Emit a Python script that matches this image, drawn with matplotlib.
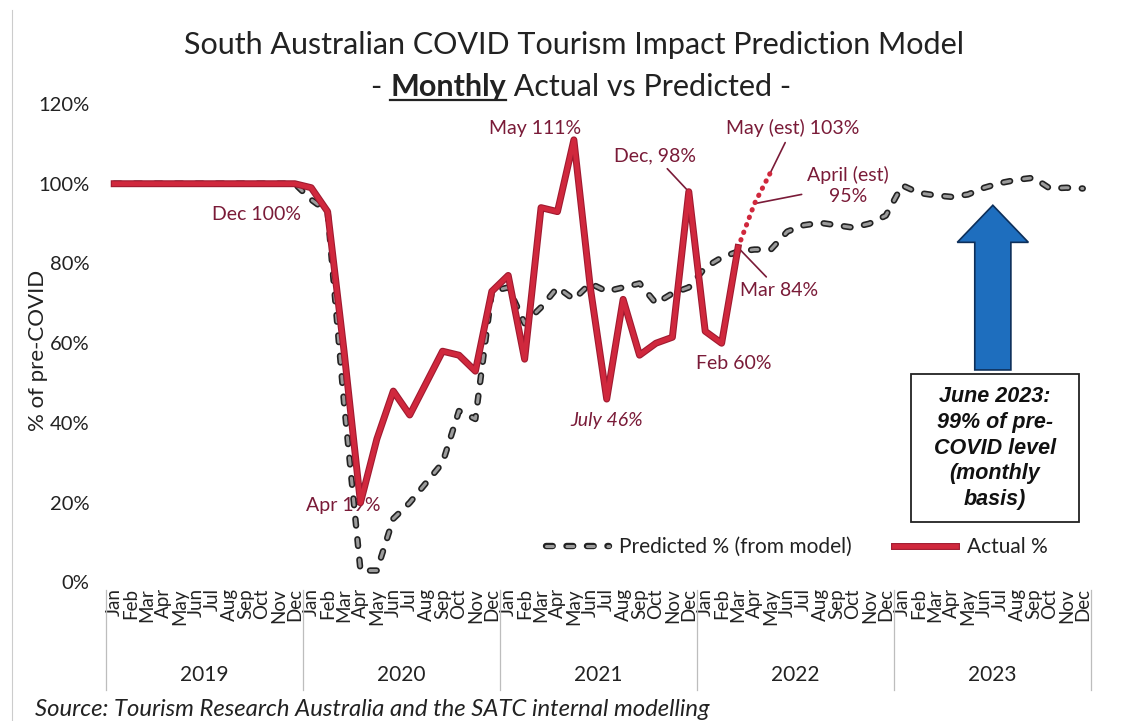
import numpy as np
import matplotlib
matplotlib.use("Agg")
import matplotlib.pyplot as plt
import matplotlib.patheffects as pe
from matplotlib.patches import FancyArrow, Rectangle
from matplotlib.lines import Line2D

plt.rcParams['font.family'] = ['Lato', 'DejaVu Sans']

months = ["Jan", "Feb", "Mar", "Apr", "May", "Jun",
          "Jul", "Aug", "Sep", "Oct", "Nov", "Dec"]
years = ["2019", "2020", "2021", "2022", "2023"]

# % of pre-COVID, Jan 2019 .. Dec 2023
predicted = [100, 100, 100, 100, 100, 100, 100, 100, 100, 100, 100, 100,
             96, 93, 45, 3, 3, 16, 20, 25, 30, 43, 41, 73,
             74, 65, 69, 74, 71, 75, 73, 74, 75, 70, 72.5, 74,
             79, 81.5, 83, 83.5, 83.5, 88, 89.6, 90.2, 89.6, 89, 90, 92,
             99.6, 97.7, 97.1, 96.7, 97.3, 99, 100.2, 101, 101.5, 98.8, 99, 98.8]
actual = [100, 100, 100, 100, 100, 100, 100, 100, 100, 100, 100, 100,
          99, 93, 58, 20, 36, 48, 42, 50, 58, 57, 53, 73,
          77, 56, 94, 93, 111, 74, 46, 71, 57, 60, 61.5, 98,
          63, 60, 84]
est_months = [38, 39, 40]
est_values = [84, 95, 103]

n = len(months) * len(years)
x = np.arange(n)
act = np.full(n, np.nan)
act[:len(actual)] = actual

maroon = '#7a1b38'
red = '#d0283d'

fig = plt.figure(figsize=(11.23, 7.21), dpi=100)
ax = fig.add_axes([0.0944, 0.1921, 0.8771, 0.6637])
ax.set_xlim(-0.5, n - 0.5)
ax.set_ylim(0, 120)

ax.plot(x, predicted, color='#9c9c9c', lw=2.2, linestyle=(0, (2.2, 4.5)),
        dash_capstyle='round', clip_on=False, zorder=3,
        path_effects=[pe.Stroke(linewidth=4.6, foreground='#222222'), pe.Normal()],
        label='Predicted % (from model)')
ax.plot(est_months, est_values, color=red, lw=3.6, linestyle=(0, (0.1, 1.5)),
        dash_capstyle='round', zorder=4)
ax.plot(x, act, color=red, lw=3.4, solid_joinstyle='round', zorder=5,
        path_effects=[pe.Stroke(linewidth=5, foreground='#a01a30'), pe.Normal()],
        label='Actual %')

for s in ax.spines.values():
    s.set_visible(False)
ax.set_yticks(range(0, 121, 20))
ax.set_yticklabels([f"{v}%" for v in range(0, 121, 20)], fontsize=14.5, color='#222222')
ax.tick_params(axis='y', length=0, pad=12)
ax.set_xticks(x)
ax.set_xticklabels(months * len(years), rotation=90, fontsize=13.5, color='#222222')
ax.tick_params(axis='x', length=0, pad=4)
ax.set_ylabel("% of pre-COVID", fontsize=16, color='#222222')
ax.yaxis.set_label_coords(-0.059, 0.486)

tr = ax.get_xaxis_transform()
for k in range(len(years) + 1):
    ax.add_line(Line2D([12 * k - 0.5] * 2, [-0.015, -0.225], transform=tr,
                       color='#bdbdbd', lw=0.9, clip_on=False))
for k, yr in enumerate(years):
    ax.text(12 * k + 5.5, -0.193, yr, transform=tr, ha='center', va='center',
            fontsize=15, color='#222222')

# labels
lab = dict(color=maroon, fontsize=14, ha='center', va='center')
ax.text(8.64, 92.4, "Dec 100%", zorder=2, **lab)
ax.text(13.93, 19.2, "Apr 19%", zorder=2, **lab)
ax.text(25.63, 113.9, "May 111%", **lab)
ax.text(30.0, 40.7, "July 46%", style='italic', **lab)
ax.text(37.75, 54.8, "Feb 60%", **lab)
arrow_kw = dict(arrowstyle='-', color=maroon, lw=1.2, shrinkA=2, shrinkB=0)
ax.annotate("Dec, 98%", xy=(35, 98), xytext=(32.93, 107.1), arrowprops=arrow_kw, **lab)
ax.annotate("Mar 84%", xy=(38, 84), xytext=(40.5, 73.3), arrowprops=arrow_kw, **lab)
ax.annotate("May (est) 103%", xy=(40, 103), xytext=(41.3, 113.9), arrowprops=arrow_kw, **lab)
ax.annotate("April (est)\n95%", xy=(39, 95), xytext=(44.7, 99.6), arrowprops=arrow_kw,
            linespacing=1.3, **lab)

# arrow and note box
ax.add_patch(FancyArrow(53.52, 53.3, 0, 41.3, width=2.2, head_width=4.33,
                        head_length=9.3, length_includes_head=True,
                        fc='#1e6ebe', ec='#0d2f5a', lw=1.2, zorder=6))
ax.add_patch(Rectangle((48.53, 15.2), 10.23, 37.1, fc='white', ec='#222222',
                       lw=1.3, zorder=6))
ax.text(53.65, 33.7, "June 2023:\n99% of pre-\nCOVID level\n(monthly\nbasis)",
        ha='center', va='center', fontsize=15.5, fontweight='bold', style='italic',
        family='Liberation Sans', linespacing=1.3, color='#111111', zorder=7)

ax.legend(loc='center', bbox_to_anchor=(0.7015, 0.074), ncol=2, frameon=False,
          fontsize=15, handlelength=3.0, handletextpad=0.5, columnspacing=2.0,
          labelcolor='#222222')

# title
fig.text(0.511, 1 - 45 / 721, "South Australian COVID Tourism Impact Prediction Model",
         ha='center', va='center', fontsize=22, color='#222222')
parts = [("- ", 'normal'), ("Monthly", 'bold'), (" Actual vs Predicted -", 'normal')]
base_y = 1 - 96 / 721
texts = [fig.text(0, base_y, s, fontweight=w, fontsize=22, va='baseline', color='#222222')
         for s, w in parts]
renderer = fig.canvas.get_renderer()
widths = [t.get_window_extent(renderer).width for t in texts]
W = fig.bbox.width
left = 581 - sum(widths) / 2
for t, w in zip(texts, widths):
    t.set_x(left / W)
    left += w
bb = texts[1].get_window_extent(renderer)
uy = base_y - 4 / fig.bbox.height
fig.add_artist(Line2D([bb.x0 / W, bb.x1 / W], [uy, uy], transform=fig.transFigure,
                      color='#222222', lw=1.6))

fig.add_artist(Line2D([12 / 1123] * 2, [0, 1 - 10 / 721], transform=fig.transFigure,
                      color='#cccccc', lw=0.8))
fig.text(35 / 1123, 1 - 710 / 721,
         "Source: Tourism Research Australia and the SATC internal modelling",
         ha='left', va='center', fontsize=17.2, style='italic', color='#222222')

fig.savefig("out.png", dpi=100)
